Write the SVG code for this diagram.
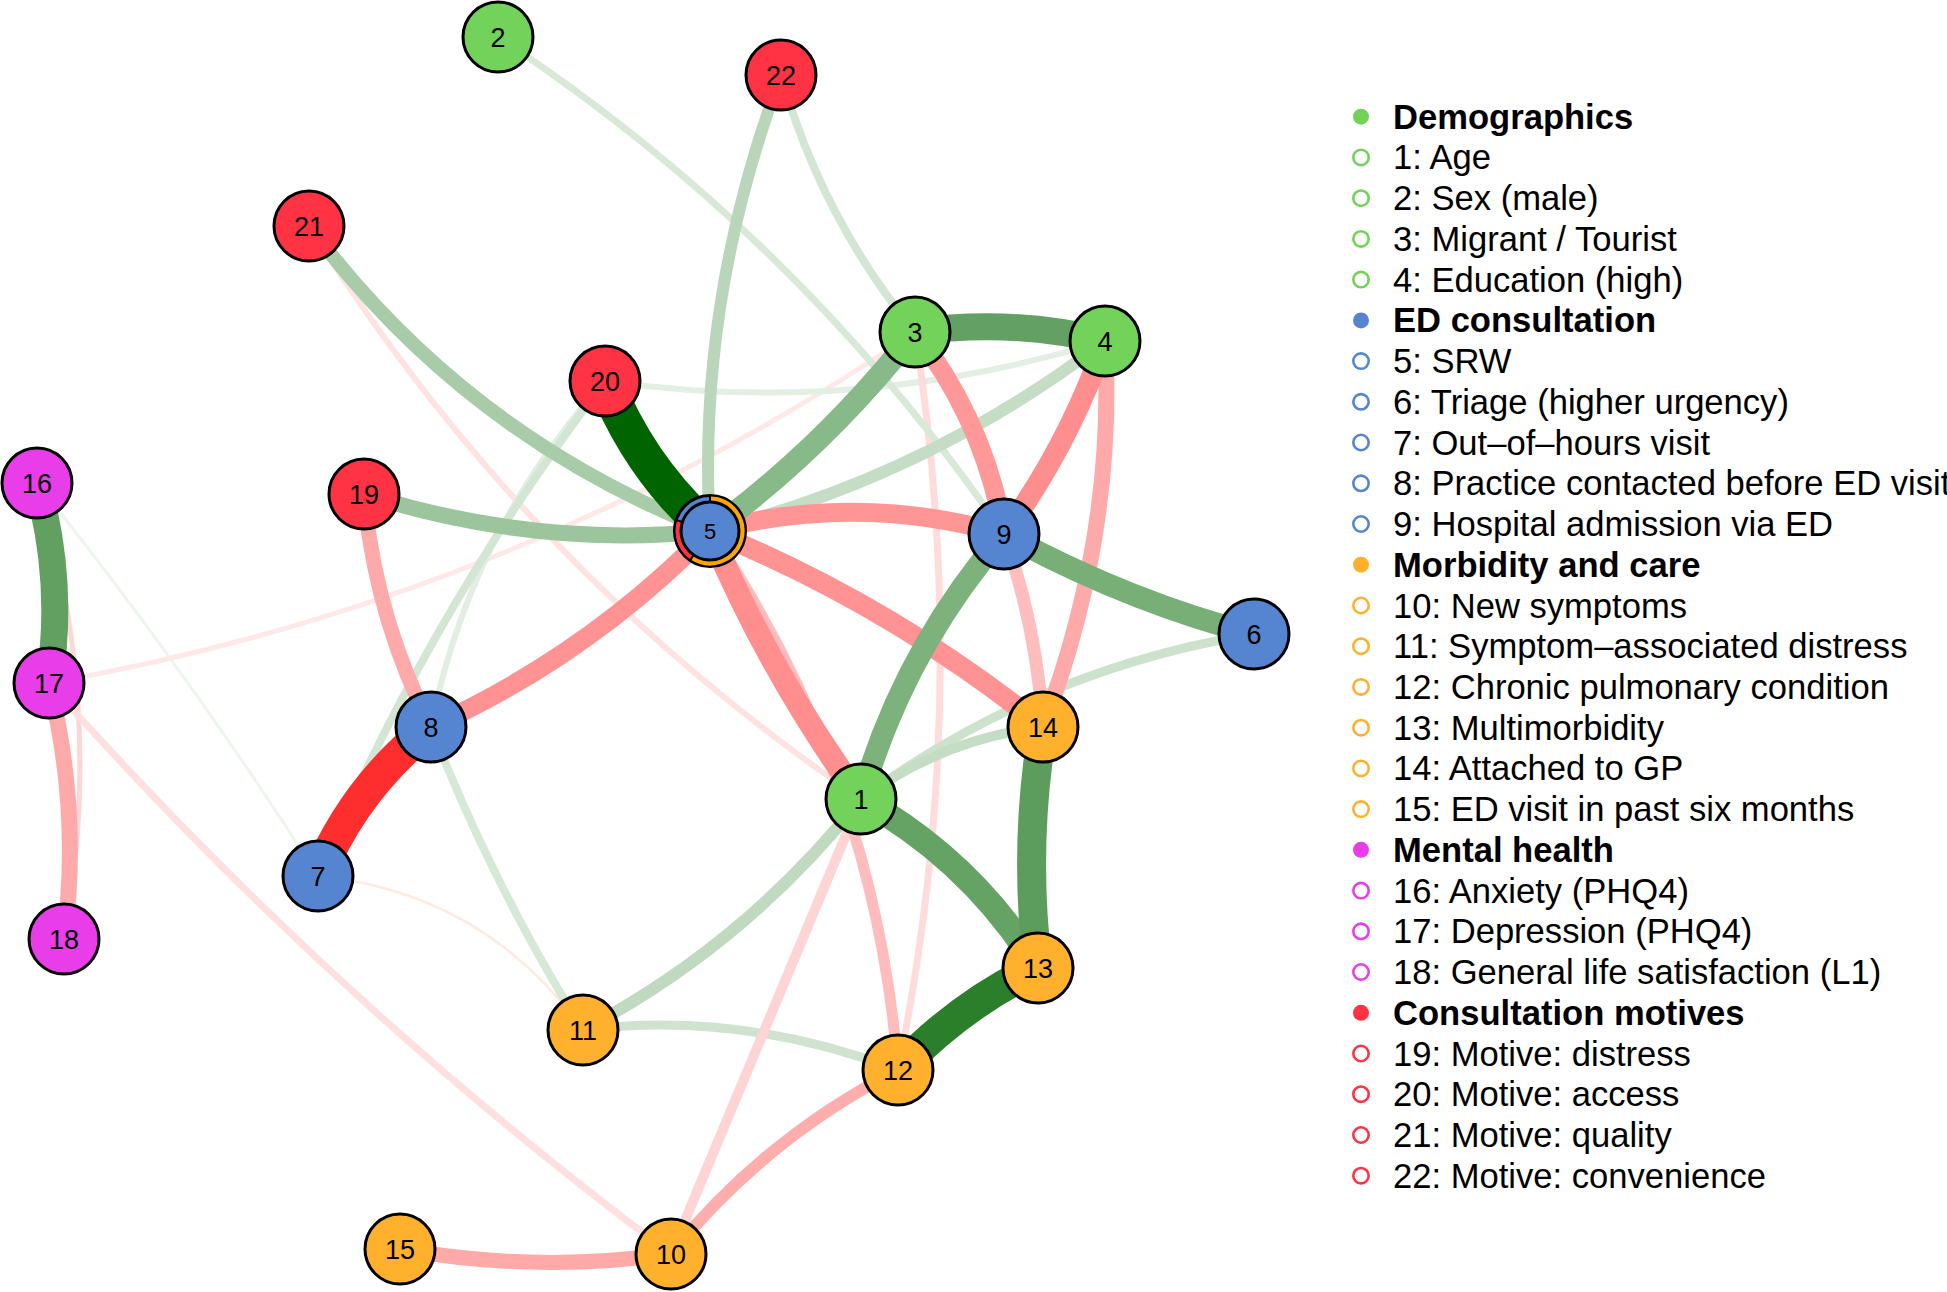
<svg xmlns="http://www.w3.org/2000/svg" width="1947" height="1292" viewBox="0 0 1947 1292">
<style>
.e{fill:none;stroke-linecap:butt}
.node circle{stroke:#000;stroke-width:3}
.node text{font-family:"Liberation Sans",Arial,sans-serif;font-size:27px;text-anchor:middle;fill:#000}
.demo circle,.ldemo{fill:#72D25A}
.ed circle,.led{fill:#5585D0}
.morb circle,.lmorb{fill:#FFB12E}
.ment circle,.lment{fill:#E83DE8}
.mot circle,.lmot{fill:#FF3344}
.lg text{font-family:"Liberation Sans",Arial,sans-serif;font-size:34.6px;fill:#000}
.lg text.h{font-weight:bold}
.ho{fill:none;stroke-width:2.6}
</style>
<rect width="1947" height="1292" fill="#fff"/>
<g id="edges">
<path class="e" d="M318,876 Q485,893 583,1030" stroke="#fdebe0" stroke-width="2.5"/>
<path class="e" d="M37,483 Q188,672 318,876" stroke="#edf5ed" stroke-width="3"/>
<path class="e" d="M49,683 Q520,600 915,332" stroke="#ffe8e8" stroke-width="5"/>
<path class="e" d="M37,483 Q106,707 64,939" stroke="#ffd6d6" stroke-width="5"/>
<path class="e" d="M309,226 Q525,571 861,799" stroke="#ffe2e2" stroke-width="6"/>
<path class="e" d="M605,381 Q855,417 1105,341" stroke="#e4efe4" stroke-width="6"/>
<path class="e" d="M605,381 Q470,530 431,727" stroke="#e2eee2" stroke-width="6"/>
<path class="e" d="M49,683 Q330,1000 671,1254" stroke="#ffe0e0" stroke-width="7"/>
<path class="e" d="M915,332 Q973,701 898,1070" stroke="#ffdcdc" stroke-width="7"/>
<path class="e" d="M498,37 Q800,236 1004,534" stroke="#d8e9d8" stroke-width="7"/>
<path class="e" d="M605,381 Q430,611 318,876" stroke="#d3e6d3" stroke-width="8"/>
<path class="e" d="M781,75 Q821,217 915,332" stroke="#d3e6d3" stroke-width="8"/>
<path class="e" d="M431,727 Q493,886 583,1030" stroke="#d6e8d6" stroke-width="8"/>
<path class="e" d="M583,1030 Q740,1010 898,1070" stroke="#cfe3cf" stroke-width="9"/>
<path class="e" d="M1254,634 Q1037,669 861,799" stroke="#cde2cd" stroke-width="9"/>
<path class="e" d="M861,799 Q766,1026 671,1254" stroke="#ffd4d4" stroke-width="10"/>
<path class="e" d="M861,799 Q942,739 1043,727" stroke="#c4ddc4" stroke-width="10"/>
<path class="e" d="M710,531 Q875,776 898,1070" stroke="#ffbcbc" stroke-width="11"/>
<path class="e" d="M861,799 Q746,944 583,1030" stroke="#c0dac0" stroke-width="12"/>
<path class="e" d="M1105,341 Q927,477 710,531" stroke="#c5dcc5" stroke-width="12"/>
<path class="e" d="M781,75 Q696,303 710,531" stroke="#bad6ba" stroke-width="12"/>
<path class="e" d="M898,1070 Q765,1138 671,1254" stroke="#ffadad" stroke-width="12"/>
<path class="e" d="M1004,534 Q1037,628 1043,727" stroke="#ffbdbd" stroke-width="13"/>
<path class="e" d="M309,226 Q466,436 710,531" stroke="#a8cca8" stroke-width="14"/>
<path class="e" d="M400,1249 Q536,1273 671,1254" stroke="#ffa9a9" stroke-width="15"/>
<path class="e" d="M364,494 Q375,617 431,727" stroke="#ffaaaa" stroke-width="15"/>
<path class="e" d="M49,683 Q81,811 64,939" stroke="#ffaaaa" stroke-width="16"/>
<path class="e" d="M1105,341 Q1116,534 1043,727" stroke="#ffaaaa" stroke-width="16"/>
<path class="e" d="M364,494 Q537,549 710,531" stroke="#9dc59d" stroke-width="16"/>
<path class="e" d="M915,332 Q985,422 1004,534" stroke="#ff9999" stroke-width="19"/>
<path class="e" d="M710,531 Q857,492 1004,534" stroke="#ff9595" stroke-width="19"/>
<path class="e" d="M431,727 Q589,655 710,531" stroke="#ff9393" stroke-width="19"/>
<path class="e" d="M710,531 Q891,605 1043,727" stroke="#ff9292" stroke-width="20"/>
<path class="e" d="M1105,341 Q1069,445 1004,534" stroke="#ff8f8f" stroke-width="21"/>
<path class="e" d="M915,332 Q826,446 710,531" stroke="#88b988" stroke-width="22"/>
<path class="e" d="M1004,534 Q903,651 861,799" stroke="#7db27d" stroke-width="22"/>
<path class="e" d="M1004,534 Q1129,602 1254,634" stroke="#77af77" stroke-width="22"/>
<path class="e" d="M710,531 Q770,674 861,799" stroke="#ff8f8f" stroke-width="23"/>
<path class="e" d="M861,799 Q971,860 1038,968" stroke="#64a364" stroke-width="25"/>
<path class="e" d="M915,332 Q1010,318 1105,341" stroke="#63a063" stroke-width="27"/>
<path class="e" d="M37,483 Q65,583 49,683" stroke="#62a062" stroke-width="27"/>
<path class="e" d="M1043,727 Q1023,847 1038,968" stroke="#5c9c5c" stroke-width="29"/>
<path class="e" d="M898,1070 Q962,1003 1038,968" stroke="#2b7f2b" stroke-width="32"/>
<path class="e" d="M431,727 Q355,787 318,876" stroke="#ff2e2e" stroke-width="33"/>
<path class="e" d="M605,381 Q640,469 710,531" stroke="#006400" stroke-width="36"/>
</g>
<g id="node-1" class="node demo"><circle cx="861" cy="799" r="35"/><text x="861" y="808.5">1</text></g>
<g id="node-2" class="node demo"><circle cx="498" cy="37" r="35"/><text x="498" y="46.5">2</text></g>
<g id="node-3" class="node demo"><circle cx="915" cy="332" r="35"/><text x="915" y="341.5">3</text></g>
<g id="node-4" class="node demo"><circle cx="1105" cy="341" r="35"/><text x="1105" y="350.5">4</text></g>
<g id="node-5" class="node ed">
<circle cx="710" cy="531" r="35.5" fill="#fff"/>
<path d="M710,499 A32,32 0 1 1 692.1,557.5" fill="none" stroke="#FFA500" stroke-width="5"/>
<path d="M692.1,557.5 A32,32 0 0 1 679.6,521.1" fill="none" stroke="#FF3344" stroke-width="5"/>
<path d="M710,502 L710,495 M693.8,555 L689.9,560.8 M682.4,522 L675.8,519.9" stroke="#000" stroke-width="2"/>
<circle cx="710" cy="531" r="29"/>
<text x="710" y="539" style="font-size:22px">5</text></g>
<g id="node-6" class="node ed"><circle cx="1254" cy="634" r="35"/><text x="1254" y="643.5">6</text></g>
<g id="node-7" class="node ed"><circle cx="318" cy="876" r="35"/><text x="318" y="885.5">7</text></g>
<g id="node-8" class="node ed"><circle cx="431" cy="727" r="35"/><text x="431" y="736.5">8</text></g>
<g id="node-9" class="node ed"><circle cx="1004" cy="534" r="35"/><text x="1004" y="543.5">9</text></g>
<g id="node-10" class="node morb"><circle cx="671" cy="1254" r="35"/><text x="671" y="1263.5">10</text></g>
<g id="node-11" class="node morb"><circle cx="583" cy="1030" r="35"/><text x="583" y="1039.5">11</text></g>
<g id="node-12" class="node morb"><circle cx="898" cy="1070" r="35"/><text x="898" y="1079.5">12</text></g>
<g id="node-13" class="node morb"><circle cx="1038" cy="968" r="35"/><text x="1038" y="977.5">13</text></g>
<g id="node-14" class="node morb"><circle cx="1043" cy="727" r="35"/><text x="1043" y="736.5">14</text></g>
<g id="node-15" class="node morb"><circle cx="400" cy="1249" r="35"/><text x="400" y="1258.5">15</text></g>
<g id="node-16" class="node ment"><circle cx="37" cy="483" r="35"/><text x="37" y="492.5">16</text></g>
<g id="node-17" class="node ment"><circle cx="49" cy="683" r="35"/><text x="49" y="692.5">17</text></g>
<g id="node-18" class="node ment"><circle cx="64" cy="939" r="35"/><text x="64" y="948.5">18</text></g>
<g id="node-19" class="node mot"><circle cx="364" cy="494" r="35"/><text x="364" y="503.5">19</text></g>
<g id="node-20" class="node mot"><circle cx="605" cy="381" r="35"/><text x="605" y="390.5">20</text></g>
<g id="node-21" class="node mot"><circle cx="309" cy="226" r="35"/><text x="309" y="235.5">21</text></g>
<g id="node-22" class="node mot"><circle cx="781" cy="75" r="35"/><text x="781" y="84.5">22</text></g>
<g id="legend" class="lg">
<circle class="ldemo" cx="1361" cy="116.7" r="8"/><text class="h" x="1393" y="128.7">Demographics</text>
<circle class="ho" stroke="#72D25A" cx="1361" cy="157.4" r="7.7"/><text x="1393" y="169.4">1: Age</text>
<circle class="ho" stroke="#72D25A" cx="1361" cy="198.2" r="7.7"/><text x="1393" y="210.2">2: Sex (male)</text>
<circle class="ho" stroke="#72D25A" cx="1361" cy="238.9" r="7.7"/><text x="1393" y="250.9">3: Migrant / Tourist</text>
<circle class="ho" stroke="#72D25A" cx="1361" cy="279.6" r="7.7"/><text x="1393" y="291.6">4: Education (high)</text>
<circle class="led" cx="1361" cy="320.4" r="8"/><text class="h" x="1393" y="332.4">ED consultation</text>
<circle class="ho" stroke="#5585D0" cx="1361" cy="361.1" r="7.7"/><text x="1393" y="373.1">5: SRW</text>
<circle class="ho" stroke="#5585D0" cx="1361" cy="401.8" r="7.7"/><text x="1393" y="413.8">6: Triage (higher urgency)</text>
<circle class="ho" stroke="#5585D0" cx="1361" cy="442.5" r="7.7"/><text x="1393" y="454.5">7: Out–of–hours visit</text>
<circle class="ho" stroke="#5585D0" cx="1361" cy="483.3" r="7.7"/><text x="1393" y="495.3">8: Practice contacted before ED visit</text>
<circle class="ho" stroke="#5585D0" cx="1361" cy="524" r="7.7"/><text x="1393" y="536">9: Hospital admission via ED</text>
<circle class="lmorb" cx="1361" cy="564.7" r="8"/><text class="h" x="1393" y="576.7">Morbidity and care</text>
<circle class="ho" stroke="#FFB12E" cx="1361" cy="605.5" r="7.7"/><text x="1393" y="617.5">10: New symptoms</text>
<circle class="ho" stroke="#FFB12E" cx="1361" cy="646.2" r="7.7"/><text x="1393" y="658.2">11: Symptom–associated distress</text>
<circle class="ho" stroke="#FFB12E" cx="1361" cy="686.9" r="7.7"/><text x="1393" y="698.9">12: Chronic pulmonary condition</text>
<circle class="ho" stroke="#FFB12E" cx="1361" cy="727.7" r="7.7"/><text x="1393" y="739.7">13: Multimorbidity</text>
<circle class="ho" stroke="#FFB12E" cx="1361" cy="768.4" r="7.7"/><text x="1393" y="780.4">14: Attached to GP</text>
<circle class="ho" stroke="#FFB12E" cx="1361" cy="809.1" r="7.7"/><text x="1393" y="821.1">15: ED visit in past six months</text>
<circle class="lment" cx="1361" cy="849.8" r="8"/><text class="h" x="1393" y="861.8">Mental health</text>
<circle class="ho" stroke="#E83DE8" cx="1361" cy="890.6" r="7.7"/><text x="1393" y="902.6">16: Anxiety (PHQ4)</text>
<circle class="ho" stroke="#E83DE8" cx="1361" cy="931.3" r="7.7"/><text x="1393" y="943.3">17: Depression (PHQ4)</text>
<circle class="ho" stroke="#E83DE8" cx="1361" cy="972" r="7.7"/><text x="1393" y="984">18: General life satisfaction (L1)</text>
<circle class="lmot" cx="1361" cy="1012.8" r="8"/><text class="h" x="1393" y="1024.8">Consultation motives</text>
<circle class="ho" stroke="#FF3344" cx="1361" cy="1053.5" r="7.7"/><text x="1393" y="1065.5">19: Motive: distress</text>
<circle class="ho" stroke="#FF3344" cx="1361" cy="1094.2" r="7.7"/><text x="1393" y="1106.2">20: Motive: access</text>
<circle class="ho" stroke="#FF3344" cx="1361" cy="1135" r="7.7"/><text x="1393" y="1147">21: Motive: quality</text>
<circle class="ho" stroke="#FF3344" cx="1361" cy="1175.7" r="7.7"/><text x="1393" y="1187.7">22: Motive: convenience</text>
</g>
</svg>
